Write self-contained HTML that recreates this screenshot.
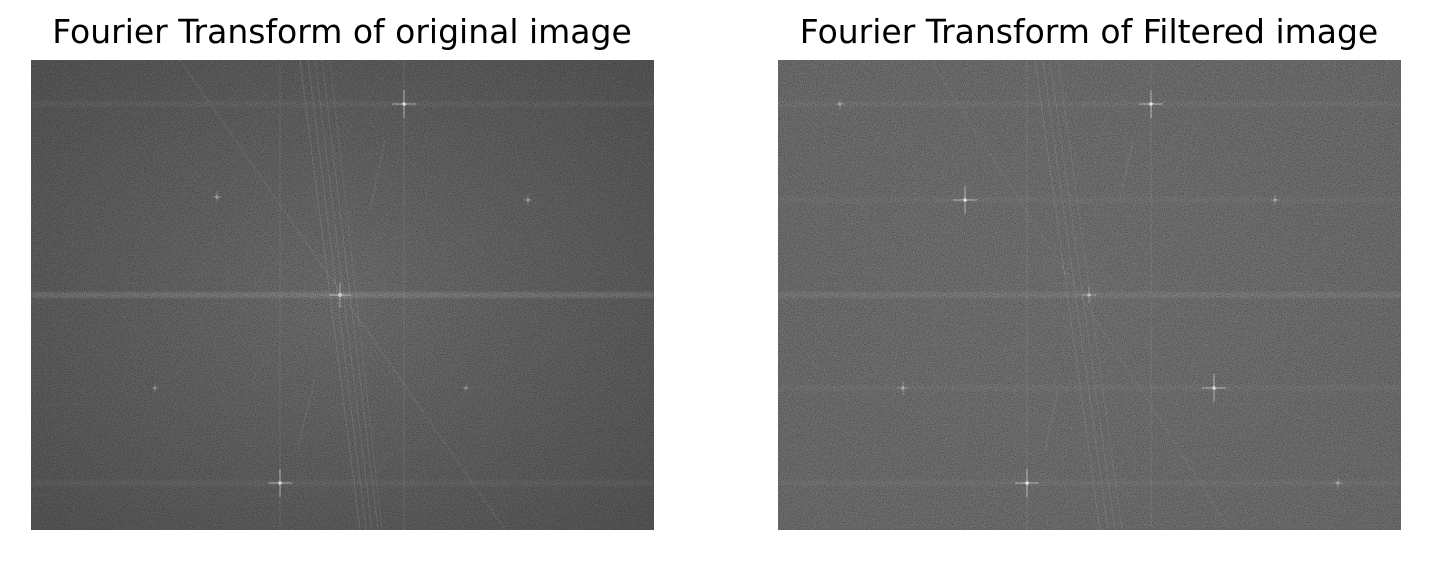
<!DOCTYPE html>
<html><head><meta charset="utf-8"><style>
html,body{margin:0;padding:0;background:#fff;width:1432px;height:578px;overflow:hidden}
.t{position:absolute;font-family:"DejaVu Sans","Liberation Sans",sans-serif;font-size:33px;color:#000;white-space:nowrap;transform:translateX(-50%)}
</style></head><body>
<div class="t" style="left:342px;top:12px">Fourier Transform of original image</div>
<div class="t" style="left:1089px;top:12px">Fourier Transform of Filtered image</div>
<svg width="1432" height="578" style="position:absolute;left:0;top:0">
<defs>
<radialGradient id="gl" cx="0.5" cy="0.5" r="0.7"><stop offset="0" stop-color="#6e6e6e"/><stop offset="1" stop-color="#555"/></radialGradient>
<radialGradient id="gr" cx="0.5" cy="0.5" r="0.7"><stop offset="0" stop-color="#727272"/><stop offset="1" stop-color="#6d6d6d"/></radialGradient>
<filter id="noise" x="0" y="0" width="100%" height="100%"><feTurbulence type="fractalNoise" baseFrequency="1.1" numOctaves="1" seed="3"/><feColorMatrix type="matrix" values="0 0 0 0 0  0 0 0 0 0  0 0 0 0 0  0 0 0 -2.6 1.35"/></filter>
<filter id="blur"><feGaussianBlur stdDeviation="1.2"/></filter>
<clipPath id="cl"><rect x="31" y="60" width="623" height="470"/></clipPath>
<clipPath id="cr"><rect x="778" y="60" width="623" height="470"/></clipPath>
</defs>
<g id="panels"></g>
</svg>
<script>
const panels=[
 {name:'original',x:31,fill:'url(#gl)',clip:'url(#cl)',
  stars:[[404,104,1],[280,483,1],[217,197,0.4],[528,200,0.4],[340,295,0.9],[155,388,0.3],[466,388,0.3]],
  hlines:[[295,0.12],[104,0.04],[483,0.04]],vlines:[[404,0.05],[280,0.05]],
  streaks:[[300,60,360,530,1,0.12],[308,60,366,530,1,0.12],[315,60,372,530,1,0.1],[322,60,378,530,1,0.1],[330,60,382,530,1,0.08],[180,60,505,530,2,0.05],[385,140,370,210,2,0.06],[315,380,298,445,2,0.06]]},
 {name:'filtered',x:778,fill:'url(#gr)',clip:'url(#cr)',
  stars:[[1151,104,1],[965,200,1],[1214,388,1],[1027,483,1],[1089,295,0.6],[903,388,0.5],[1275,200,0.4],[840,104,0.4],[1338,483,0.4]],
  hlines:[[295,0.08],[104,0.04],[483,0.04],[200,0.03],[388,0.03]],vlines:[[1151,0.05],[1027,0.05]],
  streaks:[[1035,60,1100,530,1,0.1],[1043,60,1108,530,1,0.1],[1050,60,1115,530,1,0.09],[1058,60,1122,530,1,0.08],[930,60,1230,530,2,0.04],[1133,140,1120,200,2,0.06],[1058,390,1045,450,2,0.06]]}
];
const g=document.getElementById('panels');
const NS='http://www.w3.org/2000/svg';
function mk(t,a,p){const e=document.createElementNS(NS,t);for(const k in a)e.setAttribute(k,a[k]);p.appendChild(e);return e;}
panels.forEach(p=>{
 const grp=mk('g',{'clip-path':p.clip},g);
 
 
 mk('rect',{x:p.x,y:60,width:623,height:470,fill:p.fill},grp);
 p.hlines.forEach(h=>mk('rect',{x:p.x,y:h[0]-3,width:623,height:6,fill:'#fff',opacity:h[1],filter:'url(#blur)'},grp));
 p.vlines.forEach(v=>mk('rect',{x:v[0]-1,y:60,width:2,height:470,fill:'#fff',opacity:v[1]},grp));
 p.streaks.forEach(s=>mk('line',{x1:s[0],y1:s[1],x2:s[2],y2:s[3],stroke:'#fff','stroke-width':s[4],opacity:s[5]},grp));
 p.stars.forEach(s=>{
  mk('line',{x1:s[0]-12*s[2],y1:s[1],x2:s[0]+12*s[2],y2:s[1],stroke:'#fff','stroke-width':1.2,opacity:0.45*s[2]},grp);
  mk('line',{x1:s[0],y1:s[1]-14*s[2],x2:s[0],y2:s[1]+14*s[2],stroke:'#fff','stroke-width':1.2,opacity:0.45*s[2]},grp);
  mk('circle',{cx:s[0],cy:s[1],r:1.8,fill:'#fff',opacity:0.8*s[2]},grp);
 });
 mk('rect',{x:p.x,y:60,width:623,height:470,filter:'url(#noise)',opacity:0.55},grp);
});
</script>
</body></html>
